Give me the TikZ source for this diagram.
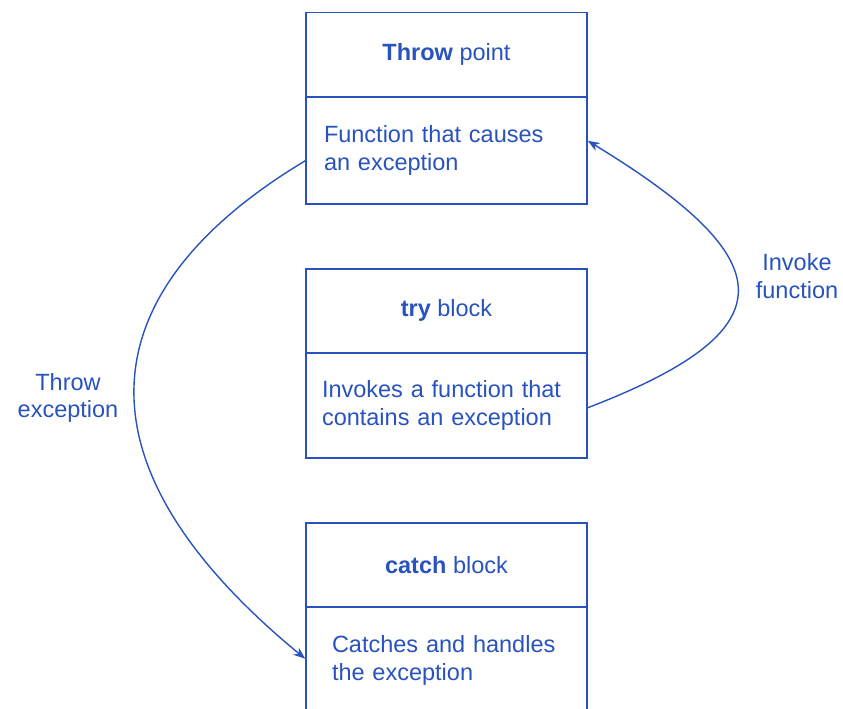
\documentclass[tikz,border=0pt]{standalone}
\usepackage{fontspec}
\setmainfont{Liberation Sans}
\usetikzlibrary{arrows.meta}
\definecolor{ink}{RGB}{40,82,190}
\begin{document}
\begin{tikzpicture}[x=1pt,y=-1pt,
  every node/.style={font=\fontsize{23.5}{27.5}\selectfont, text=ink},
  head/.style={draw=ink, line width=1.5pt, minimum width=281pt, inner sep=0pt, anchor=north},
  body/.style={draw=ink, line width=1.5pt, minimum width=281pt, text width=245pt, align=left, inner xsep=18pt, inner ysep=0pt, anchor=north},
  lbl/.style={align=center},
  conn/.style={draw=ink, line width=1.4pt, -{Stealth[length=12pt,width=9pt]}}]
\useasboundingbox (0,0) rectangle (843,709);
\clip (0,0) rectangle (843,709);
% top box
\node[head, minimum height=84pt] (th) at (446.5,12) {\textbf{Throw} point};
\node[body, minimum height=107pt] (tb) at (446.5,96) {Function that causes\\an exception};
% middle box
\node[head, minimum height=84pt] (mh) at (446.5,268) {\textbf{try} block};
\node[body, minimum height=105pt, text width=249pt, inner xsep=16pt] (mb) at (446.5,352) {Invokes a function that\\contains an exception};
% bottom box (cut off by the lower edge)
\node[head, minimum height=84pt] (bh) at (446.5,522) {\textbf{catch} block};
\node[body, minimum height=107pt, text width=229pt, inner xsep=26pt] (bb) at (446.5,606) {Catches and handles\\the exception};
% labels
\node[lbl] (l1) at (68,398) {Throw\\exception};
\node[lbl] (l2) at (797,276) {Invoke\\function};
% connectors
\draw[conn] ([yshift=-10.5pt]tb.west) .. controls (90,290) and (66,462) .. ([yshift=1.5pt]bb.west);
\draw[conn] ([yshift=-2.5pt]mb.east) .. controls (790,330) and (785,261) .. ([yshift=9.5pt]tb.east);
\end{tikzpicture}
\end{document}
